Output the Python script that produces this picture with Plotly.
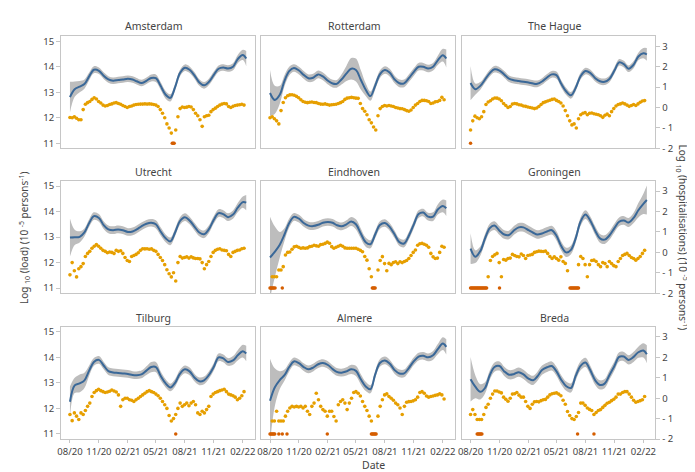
import plotly.graph_objects as go
import pandas as pd

W, H = 695, 472

CITIES = ["Amsterdam", "Rotterdam", "The Hague", "Utrecht", "Eindhoven",
          "Groningen", "Tilburg", "Almere", "Breda"]

# nodes of the fitted load curve: 1st and 16th of every month, plus last day
_ms = pd.date_range("2020-08-01", "2022-02-01", freq="MS")
LOAD_DATES = sorted(list(_ms) + [d + pd.Timedelta(days=15) for d in _ms[:-1]]) + [pd.Timestamp("2022-02-12")]
# weekly hospitalisation observations
HOSP_DATES = pd.date_range("2020-08-01", periods=80, freq="7D")

TICK_DATES = ["2020-08-01", "2020-11-01", "2021-02-01", "2021-05-01",
              "2021-08-01", "2021-11-01", "2022-02-01"]
TICK_LABELS = ["08/20", "11/20", "02/21", "05/21", "08/21", "11/21", "02/22"]
LOAD_TICKS = [11, 12, 13, 14, 15]
HOSP_TICKS = [-2, -1, 0, 1, 2, 3]
HOSP_TICK_LABELS = ["- 2", "- 1", "0", "1", "2", "3"]
ZERO_LEVEL = 11  # where days without hospitalisations are marked (load scale)

# ---------------- log10 load (fitted) ----------------
load_amsterdam = [12.81, 13.12, 13.22, 13.32, 13.62, 13.88, 13.84, 13.65, 13.5, 13.45,
                  13.48, 13.5, 13.53, 13.5, 13.43, 13.36, 13.45, 13.56, 13.55, 13.25,
                  12.9, 12.78, 13.2, 13.74, 13.96, 13.88, 13.65, 13.38, 13.27, 13.4,
                  13.68, 13.92, 13.97, 13.93, 14.0, 14.3, 14.46, 14.32]
load_rotterdam = [12.97, 12.7, 12.9, 13.45, 13.83, 13.95, 13.85, 13.68, 13.55, 13.57,
                  13.7, 13.62, 13.45, 13.34, 13.33, 13.5, 13.74, 13.92, 13.87, 13.5,
                  13.1, 12.85, 13.25, 13.7, 13.87, 13.77, 13.5, 13.35, 13.35, 13.55,
                  13.8, 14.0, 14.0, 13.93, 14.0, 14.25, 14.45, 14.32]
load_thehague = [13.36, 13.12, 13.25, 13.5, 13.75, 13.9, 13.85, 13.7, 13.53, 13.47,
                 13.44, 13.41, 13.38, 13.34, 13.33, 13.42, 13.58, 13.7, 13.67, 13.33,
                 13.03, 12.88, 13.17, 13.62, 13.83, 13.76, 13.55, 13.43, 13.41, 13.52,
                 13.85, 14.17, 14.1, 13.92, 14.08, 14.4, 14.53, 14.48]
load_utrecht = [12.98, 12.99, 13.01, 13.18, 13.55, 13.82, 13.75, 13.47, 13.3, 13.27,
                13.3, 13.27, 13.2, 13.22, 13.3, 13.42, 13.52, 13.56, 13.5, 13.22,
                12.95, 12.83, 13.18, 13.62, 13.78, 13.65, 13.4, 13.18, 13.11, 13.3,
                13.68, 13.94, 13.9, 13.78, 13.88, 14.15, 14.37, 14.35]
load_eindhoven = [12.2, 12.42, 12.7, 13.1, 13.55, 13.79, 13.72, 13.55, 13.45, 13.43,
                  13.48, 13.56, 13.59, 13.56, 13.47, 13.42, 13.5, 13.61, 13.5, 13.15,
                  12.8, 12.72, 13.1, 13.47, 13.55, 13.4, 13.1, 12.8, 12.75, 13.05,
                  13.5, 13.9, 13.96, 13.8, 13.8, 14.08, 14.22, 14.13]
load_groningen = [12.55, 12.23, 12.45, 12.95, 13.35, 13.45, 13.25, 13.1, 13.08, 13.25,
                  13.38, 13.38, 13.27, 13.17, 13.1, 13.14, 13.22, 13.27, 13.05, 12.65,
                  12.4, 12.5, 12.95, 13.59, 13.88, 13.65, 13.25, 12.95, 12.9, 13.06,
                  13.35, 13.6, 13.65, 13.57, 13.75, 14.05, 14.3, 14.45]
load_tilburg = [12.26, 12.9, 12.98, 13.1, 13.48, 13.82, 13.9, 13.68, 13.46, 13.41,
                13.39, 13.37, 13.35, 13.31, 13.3, 13.33, 13.48, 13.62, 13.62, 13.28,
                12.98, 12.82, 13.0, 13.35, 13.53, 13.45, 13.2, 13.06, 13.1, 13.3,
                13.63, 14.0, 13.96, 13.82, 13.88, 14.08, 14.24, 14.15]
load_almere = [12.3, 12.82, 13.11, 13.3, 13.62, 13.84, 13.77, 13.62, 13.53, 13.6,
               13.73, 13.78, 13.7, 13.54, 13.43, 13.4, 13.45, 13.53, 13.47, 13.15,
               12.86, 12.75, 13.32, 13.78, 13.88, 13.76, 13.5, 13.37, 13.37, 13.58,
               13.85, 14.03, 14.06, 14.0, 14.08, 14.32, 14.54, 14.41]
load_breda = [13.14, 12.85, 12.65, 12.8, 13.3, 13.62, 13.66, 13.45, 13.32, 13.34,
              13.42, 13.33, 13.17, 13.1, 13.25, 13.5, 13.61, 13.66, 13.45, 13.12,
              12.87, 12.8, 13.27, 13.66, 13.8, 13.5, 13.1, 12.92, 12.97, 13.3,
              13.66, 14.02, 14.03, 13.9, 14.02, 14.2, 14.27, 14.12]

# ---------------- half width of the uncertainty band ----------------
band_amsterdam = [0.60, 0.30, 0.22, 0.18, 0.15, 0.14, 0.13, 0.13, 0.13, 0.13,
                  0.13, 0.13, 0.13, 0.13, 0.13, 0.13, 0.13, 0.14, 0.15, 0.15,
                  0.15, 0.14, 0.13, 0.13, 0.13, 0.13, 0.13, 0.13, 0.13, 0.13,
                  0.13, 0.13, 0.13, 0.13, 0.14, 0.16, 0.20, 0.30]
band_rotterdam = [0.90, 0.55, 0.35, 0.22, 0.17, 0.15, 0.15, 0.15, 0.15, 0.15,
                  0.15, 0.15, 0.15, 0.15, 0.15, 0.20, 0.30, 0.42, 0.45, 0.38,
                  0.25, 0.18, 0.15, 0.15, 0.15, 0.15, 0.15, 0.15, 0.15, 0.15,
                  0.15, 0.15, 0.15, 0.15, 0.15, 0.18, 0.25, 0.35]
band_thehague = [0.67, 0.22, 0.15, 0.13, 0.13, 0.13, 0.13, 0.13, 0.13, 0.13,
                 0.13, 0.13, 0.13, 0.13, 0.13, 0.13, 0.13, 0.13, 0.14, 0.14,
                 0.14, 0.13, 0.13, 0.13, 0.13, 0.13, 0.13, 0.13, 0.13, 0.13,
                 0.13, 0.13, 0.13, 0.13, 0.14, 0.15, 0.20, 0.25]
band_utrecht = [0.75, 0.30, 0.22, 0.16, 0.15, 0.15, 0.15, 0.15, 0.15, 0.15,
                0.15, 0.15, 0.15, 0.15, 0.15, 0.15, 0.15, 0.15, 0.16, 0.16,
                0.15, 0.15, 0.15, 0.15, 0.15, 0.15, 0.15, 0.15, 0.15, 0.15,
                0.15, 0.15, 0.15, 0.15, 0.16, 0.18, 0.22, 0.30]
band_eindhoven = [1.60, 1.00, 0.50, 0.25, 0.18, 0.15, 0.15, 0.15, 0.15, 0.15,
                  0.15, 0.15, 0.15, 0.15, 0.15, 0.15, 0.16, 0.18, 0.20, 0.20,
                  0.18, 0.16, 0.15, 0.15, 0.15, 0.15, 0.15, 0.15, 0.15, 0.15,
                  0.15, 0.15, 0.15, 0.15, 0.17, 0.20, 0.25, 0.30]
band_groningen = [0.60, 0.25, 0.18, 0.17, 0.17, 0.17, 0.17, 0.17, 0.17, 0.17,
                  0.17, 0.17, 0.17, 0.17, 0.17, 0.17, 0.17, 0.17, 0.18, 0.18,
                  0.18, 0.17, 0.17, 0.17, 0.17, 0.17, 0.17, 0.17, 0.17, 0.17,
                  0.17, 0.17, 0.17, 0.18, 0.20, 0.28, 0.40, 0.57]
band_tilburg = [0.60, 0.30, 0.35, 0.30, 0.20, 0.15, 0.15, 0.15, 0.15, 0.15,
                0.15, 0.15, 0.15, 0.15, 0.15, 0.15, 0.17, 0.20, 0.20, 0.18,
                0.16, 0.15, 0.15, 0.15, 0.15, 0.15, 0.15, 0.15, 0.15, 0.15,
                0.15, 0.15, 0.15, 0.15, 0.17, 0.20, 0.25, 0.30]
band_almere = [1.65, 0.75, 0.35, 0.22, 0.17, 0.15, 0.15, 0.15, 0.15, 0.15,
               0.15, 0.15, 0.15, 0.15, 0.15, 0.15, 0.16, 0.18, 0.20, 0.20,
               0.18, 0.16, 0.15, 0.15, 0.15, 0.15, 0.15, 0.15, 0.15, 0.15,
               0.15, 0.15, 0.15, 0.15, 0.17, 0.20, 0.25, 0.30]
band_breda = [0.87, 0.45, 0.30, 0.22, 0.18, 0.18, 0.18, 0.18, 0.18, 0.18,
              0.18, 0.18, 0.18, 0.18, 0.18, 0.18, 0.18, 0.18, 0.18, 0.18,
              0.18, 0.18, 0.18, 0.18, 0.18, 0.18, 0.18, 0.18, 0.18, 0.18,
              0.18, 0.18, 0.18, 0.18, 0.20, 0.22, 0.28, 0.35]

# ---------------- log10 hospitalisations (weekly) ----------------
hosp_amsterdam = [-0.49, -0.5, -0.45, -0.52, -0.6, -0.6, -0.1, 0.16, 0.24, 0.3,
                  0.4, 0.48, 0.42, 0.3, 0.22, 0.12, 0.08, 0.1, 0.15, 0.18,
                  0.22, 0.24, 0.2, 0.16, 0.1, 0.05, 0.0, 0.05, 0.08, 0.12,
                  0.15, 0.16, 0.17, 0.17, 0.18, 0.17, 0.18, 0.17, 0.15, 0.12,
                  0.05, -0.1, -0.28, -0.5, -0.8, -1.0, -1.25, None, -1.1, -0.45,
                  -0.05, 0.03, 0.0, 0.02, 0.05, 0.03, -0.1, -0.28, -0.4, -0.6,
                  -0.92, -0.45, -0.4, -0.38, -0.2, -0.1, -0.03, 0.05, 0.12, 0.17,
                  0.2, 0.18, 0.05, 0.0, 0.06, 0.1, 0.12, 0.14, 0.16, 0.12]
hosp_rotterdam = [-0.5, -0.45, -0.55, -0.65, -0.8, -0.15, 0.25, 0.48, 0.58, 0.62,
                  0.63, 0.6, 0.55, 0.48, 0.38, 0.3, 0.26, 0.24, 0.26, 0.27,
                  0.25, 0.24, 0.2, 0.17, 0.16, 0.18, 0.15, 0.12, 0.14, 0.15,
                  0.16, 0.2, 0.24, 0.3, 0.4, 0.46, 0.48, 0.5, 0.48, 0.46,
                  0.45, 0.2, -0.05, -0.18, -0.35, -0.6, -0.75, -0.95, -1.1, -0.4,
                  -0.05, 0.05, 0.1, 0.08, 0.1, 0.08, 0.05, 0.0, -0.02, -0.05,
                  -0.06, -0.1, -0.15, -0.18, -0.12, 0.0, 0.12, 0.2, 0.3, 0.35,
                  0.35, 0.33, 0.3, 0.2, 0.22, 0.28, 0.3, 0.35, 0.5, 0.38]
hosp_thehague = [-1.1, -0.65, -0.42, -0.5, -0.55, -0.45, -0.2, 0.15, 0.27, 0.33,
                 0.42, 0.47, 0.46, 0.42, 0.33, 0.2, 0.1, 0.0, 0.05, 0.17,
                 0.2, 0.18, 0.14, 0.12, 0.08, 0.06, 0.03, 0.0, -0.02, -0.05,
                 -0.02, 0.05, 0.15, 0.24, 0.28, 0.32, 0.36, 0.4, 0.42, 0.35,
                 0.3, 0.22, 0.08, -0.15, -0.4, -0.65, -0.85, -0.8, -1.0, -0.55,
                 -0.35, -0.28, -0.25, -0.35, -0.28, -0.27, -0.3, -0.33, -0.35, -0.4,
                 -0.48, -0.38, -0.32, -0.4, -0.2, -0.05, 0.08, 0.15, 0.18, 0.22,
                 0.18, 0.12, 0.06, 0.1, 0.15, 0.1, 0.18, 0.26, 0.32, 0.34]
hosp_utrecht = [-1.1, -0.5, -0.9, -1.2, -0.8, -0.7, -0.55, -0.2, -0.05, 0.05,
                0.2, 0.3, 0.38, 0.3, 0.2, 0.1, 0.05, -0.02, 0.02, 0.0,
                -0.05, 0.1, 0.05, 0.08, -0.05, -0.25, -0.4, -0.45, -0.2, -0.15,
                -0.1, -0.02, 0.1, 0.18, 0.17, 0.18, 0.15, 0.17, 0.1, 0.05,
                -0.1, -0.25, -0.4, -0.6, -0.85, -1.05, -1.2, -1.0, -1.4, -0.5,
                -0.2, -0.28, -0.25, -0.22, -0.28, -0.22, -0.27, -0.3, -0.3, -0.32,
                -0.5, -0.8, -0.6, -0.45, -0.2, 0.0, 0.1, 0.15, 0.18, 0.12,
                0.1, 0.08, -0.1, -0.2, 0.0, 0.05, 0.1, 0.12, 0.18, 0.2]
hosp_eindhoven = [None, -1.19, -1.19, -1.19, -0.86, -0.86, -0.7, -0.13, 0.0, 0.02,
                  0.15, 0.27, 0.3, 0.25, 0.2, 0.22, 0.2, 0.22, 0.28, 0.3,
                  0.35, 0.32, 0.3, 0.38, 0.4, 0.44, 0.5, 0.45, 0.28, 0.2,
                  0.25, 0.3, 0.35, 0.3, 0.22, 0.2, 0.2, 0.2, 0.2, 0.2,
                  0.15, 0.1, 0.03, -0.2, -0.38, -0.8, -1.19, None, None, -0.86,
                  -0.4, -0.21, -0.55, -0.9, -0.54, -0.6, -0.5, -0.46, -0.55, -0.46,
                  -0.5, -0.45, -0.4, -0.3, -0.15, 0.0, 0.12, 0.35, 0.42, 0.44,
                  0.4, 0.35, 0.25, -0.05, -0.22, -0.3, -0.28, 0.0, 0.3, 0.25]
hosp_groningen = [None, None, None, None, None, None, None, None, -1.19, -0.4,
                  -0.2, -0.12, -0.05, -0.5, -1.19, -0.35, -0.38, -0.3, -0.28, -0.1,
                  -0.15, -0.2, -0.22, -0.08, -0.15, -0.3, -0.15, -0.13, -0.1, 0.0,
                  0.03, 0.06, 0.05, 0.04, 0.06, -0.05, -0.2, -0.3, -0.22, -0.3,
                  -0.38, -0.22, -0.45, -0.54, -0.9, None, None, None, None, -0.6,
                  -0.2, -0.3, -0.6, -1.19, -0.6, -0.4, -0.38, -0.45, -0.6, -0.7,
                  -0.5, -0.55, -0.7, -0.45, -0.55, -0.65, -0.7, -0.45, -0.3, -0.15,
                  -0.1, -0.05, -0.15, -0.25, -0.3, -0.38, -0.3, -0.2, -0.05, 0.1]
hosp_tilburg = [-0.8, -1.1, -0.72, -0.88, -1.04, -0.72, -0.8, -0.6, -0.4, -0.24,
                0.08, 0.28, 0.37, 0.44, 0.37, 0.32, 0.28, 0.3, 0.34, 0.4,
                0.35, 0.3, 0.16, -0.4, -0.08, 0.0, 0.0, -0.08, -0.1, -0.16,
                -0.08, 0.0, 0.08, 0.16, 0.24, 0.32, 0.37, 0.32, 0.28, 0.2,
                0.12, 0.0, -0.16, -0.32, -0.5, -0.85, -1.12, -1.0, -0.8, -0.5,
                -0.24, -0.4, -0.32, -0.24, -0.37, -0.24, -0.16, -0.32, -0.72, -0.8,
                -0.64, -0.72, -0.56, -0.4, 0.08, 0.2, 0.28, 0.32, 0.37, 0.4,
                0.44, 0.32, 0.2, 0.16, 0.12, 0.05, -0.08, 0.0, 0.12, 0.32]
hosp_almere = [None, -1.12, -1.12, -0.64, -1.12, -1.12, -1.12, -0.88, -0.64, -0.48,
               -0.4, -0.43, -0.4, -0.43, -0.4, -0.48, -0.4, -0.64, -0.8, -0.4,
               -0.24, 0.24, -0.08, -0.4, -0.56, -0.64, -0.88, -0.64, -0.64, -0.9,
               -1.12, -0.32, -0.16, -0.08, -0.24, -0.56, -0.24, 0.0, 0.28, 0.32,
               0.24, 0.11, -0.16, -0.4, -0.6, -0.88, -1.12, None, None, -0.88,
               -0.4, -0.08, 0.16, 0.21, 0.08, 0.0, -0.1, -0.24, -0.32, -0.48,
               -0.8, -0.4, -0.2, -0.17, -0.16, -0.13, -0.08, 0.05, 0.28, 0.32,
               0.24, 0.11, 0.05, 0.08, 0.11, 0.14, 0.16, 0.21, 0.16, -0.04]
hosp_breda = [-0.8, -0.56, -0.8, -1.04, -1.04, -1.04, -0.8, -0.45, -0.3, 0.0,
              0.2, 0.35, 0.35, 0.3, 0.26, 0.05, -0.05, -0.15, 0.0, 0.2,
              0.22, 0.28, 0.15, 0.05, 0.05, -0.16, -0.4, -0.5, -0.3, -0.18,
              -0.16, -0.18, -0.12, -0.08, -0.06, 0.05, 0.16, 0.22, 0.24, 0.26,
              0.2, 0.12, -0.1, -0.3, -0.65, -0.85, -1.0, -1.04, -0.9, -0.7,
              -0.24, -0.24, -0.35, -0.48, -0.55, -0.6, -0.8, -0.7, -0.6, -0.56,
              -0.45, -0.35, -0.25, -0.2, -0.12, -0.05, 0.05, 0.2, 0.2, 0.28,
              0.32, 0.32, 0.2, 0.05, -0.1, -0.2, -0.16, -0.12, -0.08, 0.08]

# ---------------- days without hospitalisations ----------------
zero_amsterdam = ["2021-06-22", "2021-06-25", "2021-06-28"]
zero_rotterdam = []
zero_thehague = ["2020-08-01"]
zero_utrecht = []
zero_eindhoven = ["2020-08-01", "2020-08-04", "2020-08-07", "2020-08-10", "2020-08-13",
                  "2020-08-17", "2020-09-09", "2021-06-22", "2021-06-25", "2021-06-28",
                  "2021-07-01"]
zero_groningen = ["2020-08-01", "2020-08-04", "2020-08-07", "2020-08-10", "2020-08-13",
                  "2020-08-16", "2020-08-19", "2020-08-22", "2020-08-25", "2020-08-28",
                  "2020-08-31", "2020-09-03", "2020-09-06", "2020-09-09", "2020-09-12",
                  "2020-09-15", "2020-09-18", "2020-09-21", "2020-11-01",
                  "2021-06-13", "2021-06-16", "2021-06-19", "2021-06-22", "2021-06-25",
                  "2021-06-28", "2021-07-01", "2021-07-04", "2021-07-07", "2021-07-10"]
zero_tilburg = ["2021-07-03"]
zero_almere = ["2020-08-01", "2020-08-04", "2020-08-07", "2020-08-10", "2020-08-13",
               "2020-08-16", "2020-08-29", "2020-09-09", "2020-09-24", "2021-01-30",
               "2021-06-19", "2021-06-22", "2021-06-25", "2021-06-28", "2021-07-01",
               "2021-07-04"]
zero_breda = ["2020-08-22", "2020-08-25", "2020-08-28", "2020-08-31", "2020-09-03",
              "2020-09-06", "2021-07-07", "2021-08-28"]

LOAD = [load_amsterdam, load_rotterdam, load_thehague, load_utrecht, load_eindhoven,
        load_groningen, load_tilburg, load_almere, load_breda]
BAND = [band_amsterdam, band_rotterdam, band_thehague, band_utrecht, band_eindhoven,
        band_groningen, band_tilburg, band_almere, band_breda]
HOSP = [hosp_amsterdam, hosp_rotterdam, hosp_thehague, hosp_utrecht, hosp_eindhoven,
        hosp_groningen, hosp_tilburg, hosp_almere, hosp_breda]
ZERO = [zero_amsterdam, zero_rotterdam, zero_thehague, zero_utrecht, zero_eindhoven,
        zero_groningen, zero_tilburg, zero_almere, zero_breda]

# ---------------- styling / layout ----------------
FONT = "Noto Sans"
TXT = "#444444"
FRAME = "#c6c6c6"
BLUE = "#3a6898"
GREY = "#bdbdbd"
ORANGE = "#E69F00"
RED = "#D55E00"
TICK_SIZE = 9.5

X0 = [49.5, 251.0, 453.0]
X1 = [244.5, 446.0, 648.0]
Y0 = [27.5, 174.5, 322.5]
Y1 = [141.5, 288.5, 436.5]
TITLE_Y = [17.3, 165.0, 313.3]

fig = go.Figure()
layout = dict(
    width=W, height=H, margin=dict(l=0, r=0, t=0, b=0),
    paper_bgcolor="white", plot_bgcolor="white", showlegend=False,
    font=dict(family=FONT, size=10, color=TXT),
)
annotations = []

for p, city in enumerate(CITIES):
    r, c = divmod(p, 3)
    xa = "x" if p == 0 else f"x{p + 1}"
    ya = "y" if p == 0 else f"y{2 * p + 1}"
    ya2 = f"y{2 * p + 2}"
    lo = [v - b for v, b in zip(LOAD[p], BAND[p])]
    hi = [v + b for v, b in zip(LOAD[p], BAND[p])]
    fig.add_trace(go.Scatter(x=LOAD_DATES, y=lo, mode="lines", xaxis=xa, yaxis=ya,
                             line=dict(width=0, shape="spline", color=GREY),
                             hoverinfo="skip"))
    fig.add_trace(go.Scatter(x=LOAD_DATES, y=hi, mode="lines", xaxis=xa, yaxis=ya,
                             line=dict(width=0, shape="spline", color=GREY),
                             fill="tonexty", fillcolor=GREY, hoverinfo="skip"))
    fig.add_trace(go.Scatter(x=LOAD_DATES, y=LOAD[p], mode="lines", xaxis=xa, yaxis=ya,
                             line=dict(width=2, shape="spline", color=BLUE)))
    if ZERO[p]:
        fig.add_trace(go.Scatter(x=ZERO[p], y=[ZERO_LEVEL] * len(ZERO[p]), mode="markers",
                                 xaxis=xa, yaxis=ya,
                                 marker=dict(size=3.5, color=RED, symbol="circle",
                                             line=dict(width=0))))
    fig.add_trace(go.Scatter(x=HOSP_DATES, y=HOSP[p], mode="markers", xaxis=xa, yaxis=ya2,
                             marker=dict(size=3.6, color=ORANGE, symbol="circle",
                                         line=dict(width=0))))

    xkey = "xaxis" if p == 0 else f"xaxis{p + 1}"
    ykey = "yaxis" if p == 0 else f"yaxis{2 * p + 1}"
    y2key = f"yaxis{2 * p + 2}"
    bottom = (r == 2)
    layout[xkey] = dict(
        type="date", domain=[X0[c] / W, X1[c] / W], anchor=ya,
        range=["2020-07-04", "2022-03-11"],
        showline=True, mirror=True, linecolor=FRAME, linewidth=1.3,
        showgrid=False, zeroline=False,
        tickmode="array", tickvals=TICK_DATES, ticktext=TICK_LABELS, tickangle=0,
        showticklabels=bottom, ticks="outside" if bottom else "",
        ticklen=3, tickcolor=FRAME, tickwidth=1,
        tickfont=dict(size=TICK_SIZE, color=TXT, family=FONT),
    )
    left = (c == 0)
    layout[ykey] = dict(
        domain=[1 - Y1[r] / H, 1 - Y0[r] / H], anchor=xa,
        range=[10.8, 15.2],
        showline=True, mirror=True, linecolor=FRAME, linewidth=1.3,
        showgrid=False, zeroline=False,
        tickmode="array", tickvals=LOAD_TICKS,
        showticklabels=left, ticks="outside" if left else "",
        ticklen=4, tickcolor=FRAME, tickwidth=1,
        tickfont=dict(size=TICK_SIZE, color=TXT, family=FONT),
    )
    right = (c == 2)
    layout[y2key] = dict(
        overlaying=ya, anchor=xa, side="right",
        range=[-2, 3.5],
        showline=False, showgrid=False, zeroline=False,
        tickmode="array", tickvals=HOSP_TICKS, ticktext=HOSP_TICK_LABELS,
        showticklabels=right, ticks="outside" if right else "",
        ticklen=4, tickcolor=FRAME, tickwidth=1,
        tickfont=dict(size=TICK_SIZE, color=TXT, family=FONT),
    )
    annotations.append(dict(
        text=city, x=((X0[c] + X1[c]) / 2 - 4) / W, y=1 - TITLE_Y[r] / H,
        xref="paper", yref="paper", xanchor="center", yanchor="middle",
        showarrow=False, font=dict(size=10.5, color=TXT, family=FONT),
    ))

annotations.append(dict(
    text="Log <sub>10</sub> (load) (10 <sup>-5</sup> persons<sup>-1</sup>)",
    x=12.5 / W, y=1 - 232 / H, xref="paper", yref="paper",
    xanchor="center", yanchor="middle", textangle=-90, showarrow=False,
    font=dict(size=10, color=TXT, family=FONT),
))
annotations.append(dict(
    text="Log <sub>10</sub> (hospitalisations) (10 <sup>-5</sup> persons<sup>-1</sup>)",
    x=675 / W, y=1 - 232 / H, xref="paper", yref="paper",
    xanchor="center", yanchor="middle", textangle=90, showarrow=False,
    font=dict(size=10, color=TXT, family=FONT),
))
annotations.append(dict(
    text="Date", x=364 / W, y=0.5 / H, xref="paper", yref="paper",
    xanchor="center", yanchor="bottom", showarrow=False,
    font=dict(size=10.5, color=TXT, family=FONT),
))
layout["annotations"] = annotations
fig.update_layout(**layout)

fig.write_html("out.html")
